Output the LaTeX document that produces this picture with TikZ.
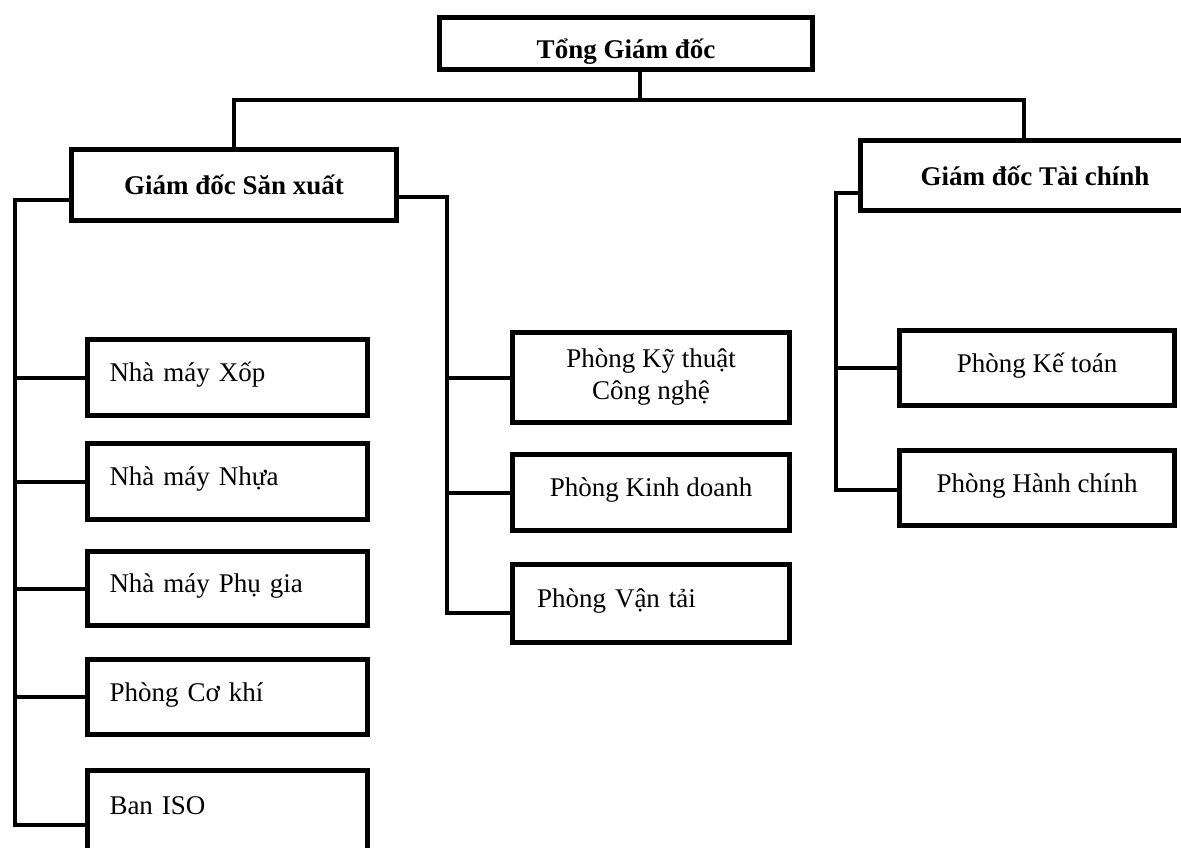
\documentclass[tikz,border=0pt]{standalone}
\usepackage{fontspec}
\setmainfont{Liberation Serif}
\usetikzlibrary{calc}
\tikzset{
  box/.style={draw, line width=5pt, inner sep=0pt, align=center, font=\fontsize{27}{32}\selectfont},
  head/.style={box, font=\bfseries\fontsize{27}{32}\selectfont},
  unit/.style={box, text height=20pt, text depth=12pt},
  leftunit/.style={unit, text width=236pt, inner xsep=22pt, align=left},
  link/.style={line width=4pt},
}

\begin{document}
\begin{tikzpicture}[x=1pt,y=-1pt]
  \useasboundingbox (0,0) rectangle (1181,847);

  \node[head, minimum width=373pt, minimum height=52pt, text height=38pt, text depth=8pt] (tgd) at (626,43.5) {Tổng Giám đốc};
  \node[head, minimum width=325pt, minimum height=71pt] (gdsx) at (234,185) {Giám đốc Săn xuất};
  \node[head, minimum width=349pt, minimum height=70pt] (gdtc) at (1035,175.5) {Giám đốc Tài chính};

  \node[leftunit, minimum height=76pt] (xop) at (227.5,377.5) {Nhà máy Xốp};
  \node[leftunit, minimum height=76pt] (nhua) at (227.5,481.5) {Nhà máy Nhựa};
  \node[leftunit, minimum height=74pt] (phugia) at (227.5,588.5) {Nhà máy Phụ gia};
  \node[leftunit, minimum height=75pt] (cokhi) at (227.5,697) {Phòng Cơ khí};
  \node[leftunit, minimum height=80pt] (iso) at (227.5,810) {Ban ISO};

  \node[box, minimum width=277pt, minimum height=90pt] (ktcn) at (651,377.5) {Phòng Kỹ thuật\\Công nghệ};
  \node[unit, minimum width=277pt, minimum height=76pt] (kinhdoanh) at (651,492.5) {Phòng Kinh doanh};
  \node[unit, minimum width=277pt, minimum height=78pt, text width=228pt, inner xsep=24.5pt, align=left] (vantai) at (651,603.5) {Phòng Vận tải};

  \node[unit, minimum width=275pt, minimum height=75pt] (ketoan) at (1037,368) {Phòng Kế toán};
  \node[unit, minimum width=275pt, minimum height=75pt] (hanhchinh) at (1037,488) {Phòng Hành chính};

  \coordinate (bus) at (640,100);
  \draw[link] (tgd.south -| bus) -- (bus);
  \draw[link] (gdsx.north) |- (bus) -| ([xshift=-11pt]gdtc.north);

  \coordinate (lbus) at (15,825);
  \draw[link] ([yshift=-15pt]gdsx.west) -| (lbus) -- (lbus -| iso.west);
  \foreach \n in {xop,nhua,phugia,cokhi}
    \draw[link] (lbus |- \n.west) -- (\n.west);

  \coordinate (mbus) at (447,613);
  \draw[link] ([yshift=-12pt]gdsx.east) -| (mbus) -- (mbus -| vantai.west);
  \foreach \n in {ktcn,kinhdoanh}
    \draw[link] (mbus |- \n.west) -- (\n.west);

  \coordinate (rbus) at (836,490);
  \draw[link] ([yshift=-17pt]gdtc.west) -| (rbus) -- (rbus -| hanhchinh.west);
  \draw[link] (rbus |- ketoan.west) -- (ketoan.west);
\end{tikzpicture}
\end{document}
